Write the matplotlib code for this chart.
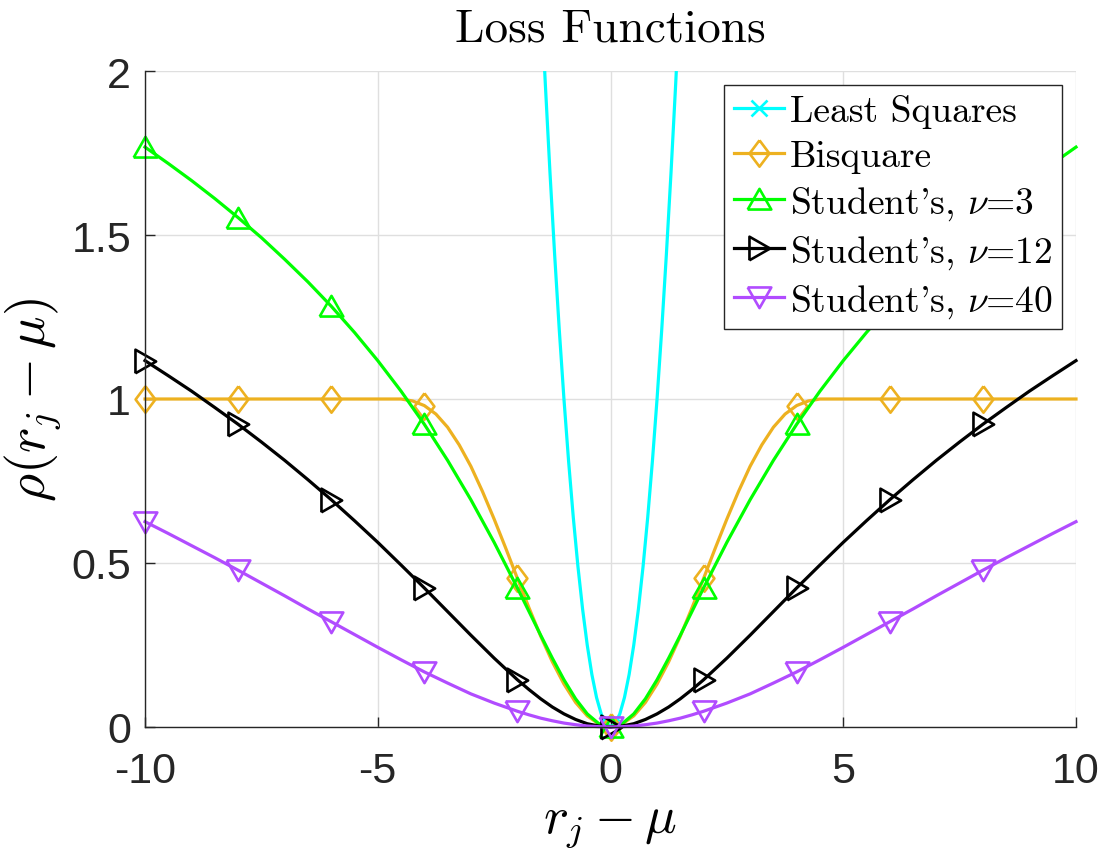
import numpy as np
import matplotlib
matplotlib.use("Agg")
import matplotlib.pyplot as plt

plt.rcParams.update({"mathtext.fontset": "cm", "axes.unicode_minus": False,
                     "font.family": ["Liberation Sans", "DejaVu Sans"]})

# ---- data ----
x_ls = [-1.5, -1.4, -1.3, -1.2, -1.1, -1.0, -0.9, -0.8, -0.7, -0.6, -0.5, -0.4, -0.3, -0.2, -0.1,
        0.0, 0.1, 0.2, 0.3, 0.4, 0.5, 0.6, 0.7, 0.8, 0.9, 1.0, 1.1, 1.2, 1.3, 1.4, 1.5]
y_ls = [2.25, 1.96, 1.69, 1.44, 1.21, 1.00, 0.81, 0.64, 0.49, 0.36, 0.25, 0.16, 0.09, 0.04, 0.01,
        0.0, 0.01, 0.04, 0.09, 0.16, 0.25, 0.36, 0.49, 0.64, 0.81, 1.00, 1.21, 1.44, 1.69, 1.96, 2.25]

x_bs = [-10, -9, -8, -7, -6, -5, -4.7, -4.5, -4.25, -4, -3.75, -3.5, -3.25, -3, -2.75, -2.5, -2.25,
        -2, -1.75, -1.5, -1.25, -1, -0.75, -0.5, -0.25, 0,
        0.25, 0.5, 0.75, 1, 1.25, 1.5, 1.75, 2, 2.25, 2.5, 2.75, 3, 3.25, 3.5, 3.75, 4, 4.25,
        4.5, 4.7, 5, 6, 7, 8, 9, 10]
y_bs = [1.0, 1.0, 1.0, 1.0, 1.0, 1.0, 1.0, 1.0, 0.994, 0.980, 0.954, 0.914, 0.860, 0.795, 0.718,
        0.634, 0.545, 0.453, 0.363, 0.277, 0.199, 0.131, 0.075, 0.034, 0.009, 0.0,
        0.009, 0.034, 0.075, 0.131, 0.199, 0.277, 0.363, 0.453, 0.545, 0.634, 0.718, 0.795, 0.860,
        0.914, 0.954, 0.980, 0.994, 1.0, 1.0, 1.0, 1.0, 1.0, 1.0, 1.0, 1.0]

x_t = [-10, -9.5, -9, -8.5, -8, -7.5, -7, -6.5, -6, -5.5, -5, -4.5, -4, -3.5, -3, -2.5, -2,
       -1.75, -1.5, -1.25, -1, -0.75, -0.5, -0.25, 0, 0.25, 0.5, 0.75, 1, 1.25, 1.5, 1.75,
       2, 2.5, 3, 3.5, 4, 4.5, 5, 5.5, 6, 6.5, 7, 7.5, 8, 8.5, 9, 9.5, 10]
y_t3 = [1.768, 1.718, 1.666, 1.611, 1.553, 1.492, 1.426, 1.357, 1.283, 1.203, 1.117, 1.024,
        0.923, 0.813, 0.693, 0.563, 0.424, 0.352, 0.280, 0.210, 0.144, 0.086, 0.040, 0.010, 0.0,
        0.010, 0.040, 0.086, 0.144, 0.210, 0.280, 0.352, 0.424, 0.563, 0.693, 0.813, 0.923,
        1.024, 1.117, 1.203, 1.283, 1.357, 1.426, 1.492, 1.553, 1.611, 1.666, 1.718, 1.768]
y_t12 = [1.117, 1.071, 1.024, 0.974, 0.923, 0.869, 0.813, 0.754, 0.693, 0.629, 0.563, 0.494,
         0.424, 0.352, 0.280, 0.210, 0.144, 0.114, 0.086, 0.061, 0.040, 0.023, 0.010, 0.003, 0.0,
         0.003, 0.010, 0.023, 0.040, 0.061, 0.086, 0.114, 0.144, 0.210, 0.280, 0.352, 0.424,
         0.494, 0.563, 0.629, 0.693, 0.754, 0.813, 0.869, 0.923, 0.974, 1.024, 1.071, 1.117]
y_t40 = [0.626, 0.590, 0.553, 0.516, 0.478, 0.439, 0.400, 0.360, 0.321, 0.282, 0.243, 0.205,
         0.168, 0.134, 0.101, 0.073, 0.048, 0.037, 0.027, 0.019, 0.012, 0.007, 0.003, 0.001, 0.0,
         0.001, 0.003, 0.007, 0.012, 0.019, 0.027, 0.037, 0.048, 0.073, 0.101, 0.134, 0.168,
         0.205, 0.243, 0.282, 0.321, 0.360, 0.400, 0.439, 0.478, 0.516, 0.553, 0.590, 0.626]

marker_x = [-10, -8, -6, -4, -2, 0, 2, 4, 6, 8]

labels = ["Least Squares", "Bisquare", r"Student's, $\nu$=3",
          r"Student's, $\nu$=12", r"Student's, $\nu$=40"]
colors = ["#00FFFF", "#EDB120", "#00FF00", "#000000", "#B14CFF"]

# custom MATLAB-like markers
diamond = [(0, 1), (0.75, 0), (0, -1), (-0.75, 0), (0, 1)]
tri_up = [(-1, -0.85), (1, -0.85), (0, 0.9), (-1, -0.85)]
tri_right = [(-0.85, -1), (-0.85, 1), (0.9, 0), (-0.85, -1)]
tri_down = [(-1, 0.85), (1, 0.85), (0, -0.9), (-1, 0.85)]

def marks(x):
    return list(np.isin(np.array(x, dtype=float), marker_x))

fig = plt.figure(figsize=(11.04, 8.54), dpi=100)
ax = fig.add_axes([145/1104, 1-728/854, (1076-145)/1104, (728-72)/854])

lw, mew = 2.3, 1.9
series = [
    (x_ls, y_ls, "x", 11, True),
    (x_bs, y_bs, diamond, 19, False),
    (x_t, y_t3, tri_up, 17, False),
    (x_t, y_t12, tri_right, 17, False),
    (x_t, y_t40, tri_down, 17, False),
]
for (xs, ys, m, ms, clip), c, lab in zip(series, colors, labels):
    ax.plot(xs, ys, color=c, lw=lw, marker=m, markersize=ms, markeredgewidth=mew,
            markerfacecolor="none", markeredgecolor=c, markevery=marks(xs),
            label=lab, clip_on=clip)

ax.set_xlim(-10, 10)
ax.set_ylim(0, 2)
ax.set_xticks([-10, -5, 0, 5, 10])
ax.set_yticks([0, 0.5, 1, 1.5, 2])
ax.set_yticklabels(["0", "0.5", "1", "1.5", "2"])
ax.grid(True, color="#DFDFDF", lw=1.0)
ax.set_axisbelow(True)
for s in ["top", "right"]:
    ax.spines[s].set_visible(False)
for s in ["left", "bottom"]:
    ax.spines[s].set_color("#262626")
    ax.spines[s].set_linewidth(1.0)
ax.tick_params(direction="in", length=7, width=1.0, color="#262626",
               labelsize=31, labelcolor="#262626")
ax.tick_params(axis="x", pad=17)
ax.tick_params(axis="y", pad=10)

ax.set_title("Loss Functions", fontfamily="cmr10", fontsize=34, pad=22)
ax.set_xlabel(r"$r_j - \mu$", fontsize=38, labelpad=7)
ax.set_ylabel(r"$\rho(r_j - \mu)$", fontsize=39, labelpad=7)

leg = ax.legend(loc="upper right", bbox_to_anchor=(1062/1104, 1-86/854),
                bbox_transform=fig.transFigure, borderaxespad=0,
                prop={"family": "cmr10", "size": 27}, handlelength=1.35,
                handletextpad=0.15, labelspacing=0.3, borderpad=0.25,
                fancybox=False, framealpha=1, edgecolor="#262626", numpoints=1)
leg.get_frame().set_linewidth(1.0)

fig.savefig("out.png", dpi=100)
